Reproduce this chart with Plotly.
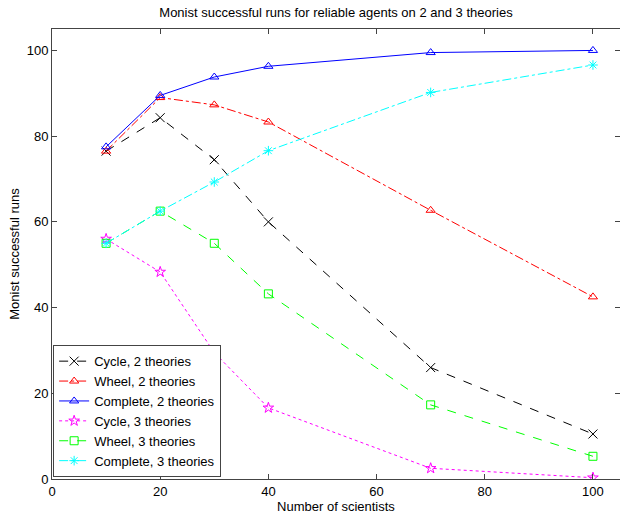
import plotly.graph_objects as go

x_vals = [10, 20, 30, 40, 70, 100]
cycle2 = [76.5, 84.3, 74.5, 60.0, 26.0, 10.5]
wheel2 = [76.5, 89.0, 87.3, 83.3, 62.7, 42.5]
complete2 = [77.5, 89.5, 93.8, 96.3, 99.5, 100.0]
cycle3 = [56.0, 48.3, 29.5, 16.6, 2.5, 0.3]
wheel3 = [55.0, 62.5, 55.0, 43.2, 17.3, 5.3]
complete3 = [55.0, 62.5, 69.3, 76.6, 90.2, 96.6]

series = [
    ("Cycle, 2 theories", cycle2, "#000000", "dash", "x-thin-open", 9),
    ("Wheel, 2 theories", wheel2, "#ff0000", "dashdot", "triangle-up-open", 8),
    ("Complete, 2 theories", complete2, "#0000ff", "solid", "triangle-up-open", 8),
    ("Cycle, 3 theories", cycle3, "#ff00ff", "dot", "star-open", 8),
    ("Wheel, 3 theories", wheel3, "#00ff00", "dash", "square-open", 8),
    ("Complete, 3 theories", complete3, "#00ffff", "dashdot", "asterisk-open", 8),
]

fig = go.Figure()
for name, ys, color, dash, sym, msize in series:
    fig.add_trace(go.Scatter(
        x=x_vals, y=ys, name=name, mode="lines+markers",
        line=dict(color=color, dash=dash, width=1),
        marker=dict(symbol=sym, size=msize, color=color, line=dict(color=color, width=1)),
    ))

font = "Liberation Sans, Arial, sans-serif"
fig.update_layout(
    width=620, height=516,
    margin=dict(l=52, r=0, t=29, b=37),
    paper_bgcolor="white", plot_bgcolor="white",
    font=dict(family=font, size=13, color="#000000"),
    title=dict(text="Monist successful runs for reliable agents on 2 and 3 theories",
               xref="paper", x=0.5, xanchor="center", y=0.985, yanchor="top",
               font=dict(size=13)),
    showlegend=True,
    legend=dict(x=0.002, y=0.004, xanchor="left", yanchor="bottom",
                bgcolor="white", bordercolor="#444444", borderwidth=1,
                font=dict(size=13), tracegroupgap=0, itemwidth=30),
)
fig.update_xaxes(range=[0, 105], tickvals=[0, 20, 40, 60, 80, 100],
                 showgrid=False, zeroline=False, showline=True, linecolor="#444444",
                 linewidth=1, mirror="ticks", ticks="inside", ticklen=5,
                 tickcolor="#444444", tickfont=dict(size=13),
                 title=dict(text="Number of scientists", standoff=3, font=dict(size=13)))
fig.update_yaxes(range=[0, 105], tickvals=[0, 20, 40, 60, 80, 100],
                 showgrid=False, zeroline=False, showline=True, linecolor="#444444",
                 linewidth=1, mirror="ticks", ticks="inside", ticklen=5,
                 tickcolor="#444444", tickfont=dict(size=13),
                 title=dict(text="Monist successful runs", standoff=4, font=dict(size=13)))

fig.write_html("out.html")
